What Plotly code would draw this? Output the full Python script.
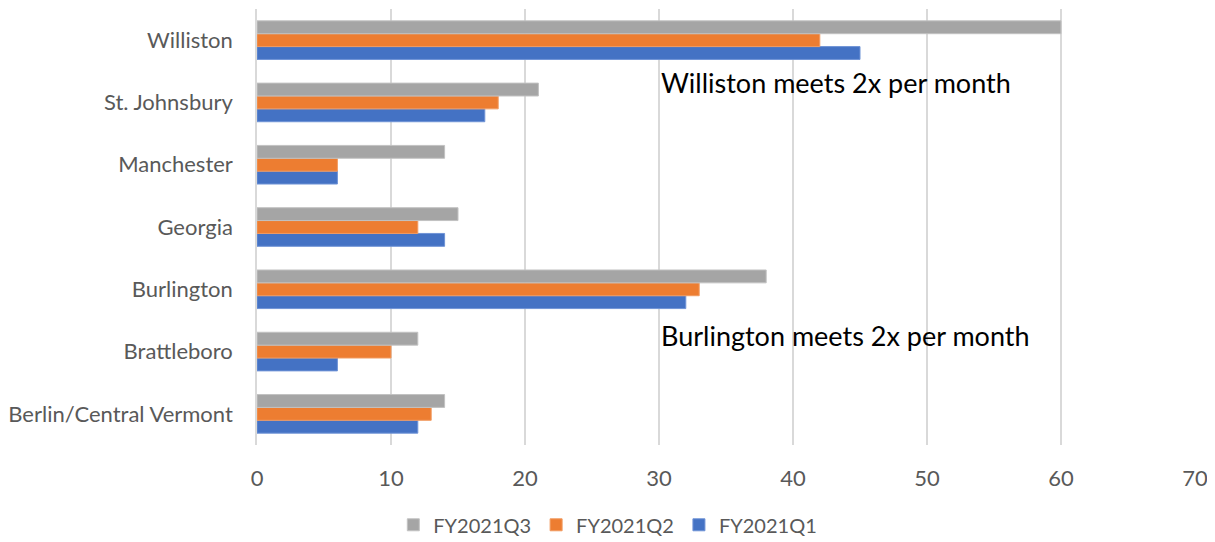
import plotly.graph_objects as go

# offices, bottom to top as plotted
offices = ['Berlin/Central Vermont', 'Brattleboro', 'Burlington', 'Georgia',
           'Manchester', 'St. Johnsbury', 'Williston']
q1 = [12, 6, 32, 14, 6, 17, 45]
q2 = [13, 10, 33, 12, 6, 18, 42]
q3 = [14, 12, 38, 15, 14, 21, 60]

FONT = "Lato"

fig = go.Figure()
fig.add_trace(go.Bar(y=offices, x=q1, orientation='h', name='FY2021Q1',
                     marker=dict(color='#4472C4', line=dict(color='#6f93d6', width=1))))
fig.add_trace(go.Bar(y=offices, x=q2, orientation='h', name='FY2021Q2',
                     marker=dict(color='#ED7D31', line=dict(color='#f19b61', width=1))))
fig.add_trace(go.Bar(y=offices, x=q3, orientation='h', name='FY2021Q3',
                     marker=dict(color='#A5A5A5', line=dict(color='#c2c2c2', width=1))))

###annotations next to the two offices that meet twice a month###
fig.add_annotation(x=30.0, y=5.32, xref='x', yref='y', text='Williston meets 2x per month',
                   showarrow=False, xanchor='left', yanchor='middle',
                   font=dict(family=FONT, size=27, color='#000000'))
fig.add_annotation(x=30.0, y=1.26, xref='x', yref='y', text='Burlington meets 2x per month',
                   showarrow=False, xanchor='left', yanchor='middle',
                   font=dict(family=FONT, size=27, color='#000000'))

# page body has an 8px margin, so the figure is sized/shifted for it
fig.update_layout(
    width=1207, height=534,
    barmode='group', bargap=0.38, bargroupgap=0,
    plot_bgcolor='white', paper_bgcolor='white',
    margin=dict(l=249, r=20, t=1, b=97, autoexpand=False),
    font=dict(family=FONT, size=22, color='#595959'),
    showlegend=True,
    legend=dict(orientation='h', traceorder='reversed', x=0.374, xref='paper',
                xanchor='center', y=-0.183, yanchor='middle',
                font=dict(size=20, color='#595959'), itemwidth=30),
)
fig.update_xaxes(range=[0, 70], dtick=10, showgrid=True, gridcolor='#d9d9d9', gridwidth=1.5,
                 zeroline=False, showline=False, ticklabelstandoff=18)
fig.update_yaxes(showgrid=False, showline=True, linecolor='#d9d9d9', linewidth=1.5,
                 ticklabelstandoff=18)

fig.write_html("out.html")
